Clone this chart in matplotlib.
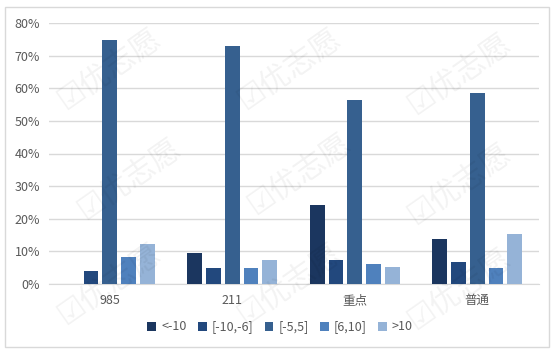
import matplotlib
matplotlib.use("Agg")
import matplotlib.pyplot as plt
import numpy as np
from matplotlib.patches import Rectangle

plt.rcParams['font.family'] = ['Noto Sans CJK SC', 'DejaVu Sans']

categories = ["985", "211", "重点", "普通"]
series_names = ["<-10", "[-10,-6]", "[-5,5]", "[6,10]", ">10"]
lt_m10 = [0.0, 9.5, 24.2, 13.8]
m10_m6 = [4.0, 4.9, 7.4, 6.7]
m5_5 = [74.8, 73.0, 56.4, 58.6]
p6_10 = [8.3, 4.9, 6.1, 4.9]
gt10 = [12.3, 7.4, 5.2, 15.3]
series = [lt_m10, m10_m6, m5_5, p6_10, gt10]
colors = ["#1B365F", "#22487D", "#36608F", "#4F81BD", "#95B3D7"]
yticks = [0, 10, 20, 30, 40, 50, 60, 70, 80]

fig = plt.figure(figsize=(5.59, 3.54), dpi=100)
W, H = 559, 354
ax = fig.add_axes([48.5 / W, 1 - 284 / H, (538.5 - 48.5) / W, (284 - 23) / H])

# chart border
fig.patches.append(Rectangle((5 / W, 1 - 347 / H), 544 / W, 340 / H, transform=fig.transFigure,
                             fill=False, edgecolor="#D9D9D9", linewidth=1.0))

x = np.arange(len(categories))
pitch = 0.153
width = 0.12
for i, (vals, c, name) in enumerate(zip(series, colors, series_names)):
    ax.bar(x + (i - 2) * pitch, vals, width=width, color=c, label=name, zorder=3)

ax.set_xlim(-0.5, len(categories) - 0.5)
ax.set_ylim(0, 80)
ax.set_yticks(yticks)
ax.set_yticklabels([f"{v}%" for v in yticks])
ax.set_xticks(x)
ax.set_xticklabels(categories)
ax.grid(axis='y', color="#D9D9D9", linewidth=1.0, zorder=0)
for s in ["top", "right", "left"]:
    ax.spines[s].set_visible(False)
ax.spines["bottom"].set_color("#D9D9D9")
ax.tick_params(axis='both', length=0, labelsize=9, colors="#595959")
ax.tick_params(axis='y', pad=6)
ax.tick_params(axis='x', pad=7)

leg = fig.legend(loc="center", bbox_to_anchor=(280 / W, 1 - 327 / H), ncol=5, frameon=False,
                 fontsize=9, handlelength=0.7, handleheight=0.7, handletextpad=0.4,
                 columnspacing=0.9, labelcolor="#595959")

# watermark
wm_pos = [(110, 70), (290, 70), (460, 75), (130, 180), (300, 175), (460, 185),
          (110, 285), (290, 285), (460, 290)]
for (px, py) in wm_pos:
    fig.text(px / W, 1 - py / H, "☑优志愿", fontsize=22, color="#000000", alpha=0.05,
             rotation=35, ha="center", va="center",
             family=['Noto Sans CJK SC', 'DejaVu Sans'], zorder=10)

fig.savefig("out.png", dpi=100)
